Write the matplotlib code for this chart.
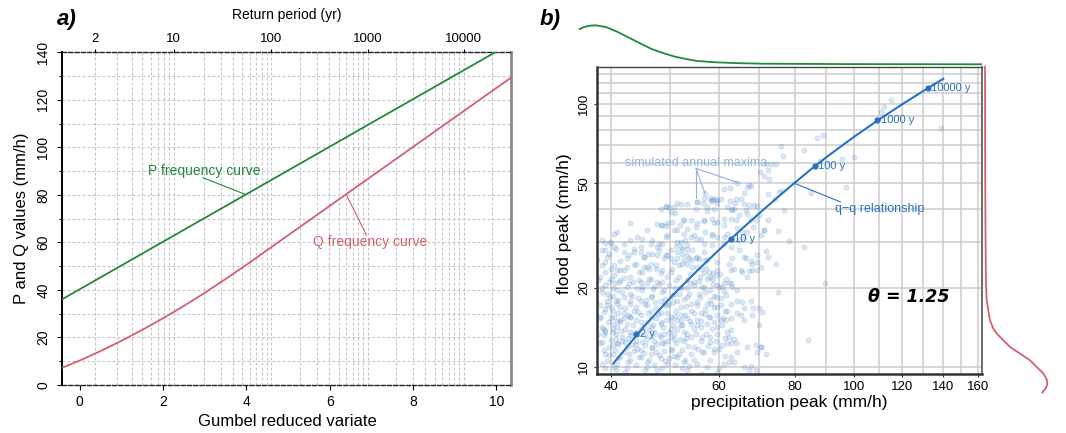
import numpy as np
import matplotlib.pyplot as plt
from matplotlib.ticker import NullFormatter

plt.rcParams['font.family'] = ['Liberation Sans', 'DejaVu Sans']

W, H = 1066, 433

# ---- panel a: frequency curves vs Gumbel reduced variate ----
gumbel_y = [-0.42, 0.0, 0.5, 1.0, 1.5, 2.0, 2.5, 3.0, 3.5, 4.0, 4.5, 5.0, 6.0, 7.0, 8.0, 9.0, 10.0, 10.35]
p_curve = [36.1, 40.3, 45.3, 50.3, 55.3, 60.3, 65.3, 70.3, 75.3, 80.3, 85.3, 90.3, 100.3, 110.3, 120.3,
           130.3, 140.3, 143.8]
q_curve = [7.3, 10.3, 14.3, 18.6, 23.2, 28.1, 33.3, 38.8, 44.6, 50.6, 56.8, 63.0, 75.4, 87.8, 100.2,
           112.6, 125.0, 129.3]
return_periods = [2, 10, 100, 1000, 10000]

# ---- panel b: q-q relationship and simulated maxima ----
rp_labels = ['2 y', '10 y', '100 y', '1000 y', '10000 y']
rp_precip = [44.0, 62.8, 86.3, 109.3, 132.4]
rp_flood = [13.3, 30.7, 58.0, 86.8, 115.5]

# marginal densities (relative height)
p_dens_x = [35.5, 36.2, 36.9, 37.7, 39.2, 40.9, 42.7, 44.6, 46.6, 48.8, 50.9, 53.3, 55.4, 59.4, 65.0,
            71.1, 98.8, 162.0]
p_dens = [0.906, 0.962, 0.99, 1.0, 0.957, 0.837, 0.689, 0.541, 0.395, 0.286, 0.199, 0.133, 0.089,
          0.056, 0.033, 0.02, 0.01, 0.005]
q_dens_y = [139, 60, 35, 25, 20.8, 17.96, 16.4, 15.06, 14.0, 13.4, 12.64, 11.92, 11.24, 10.6, 10.0,
            9.44, 8.98, 8.64, 8.32, 7.99]
q_dens = [0.0, 0.003, 0.007, 0.012, 0.016, 0.027, 0.053, 0.08, 0.133, 0.188, 0.294, 0.401, 0.562,
          0.722, 0.83, 0.936, 0.99, 1.0, 0.979, 0.92]

# simulated annual maxima (precipitation peak, flood peak)
sim_pairs = [
    (115.2, 103.5), (112.3, 97.9), (110.7, 93.7), (139.0, 81.0), (86.9, 74.6), (89.0, 76.3), (76.0, 69.6),
    (83.0, 66.8), (88.2, 60.8), (95.8, 62.0), (100.0, 63.0), (76.6, 63.5), (71.8, 59.1), (70.3, 55.3),
    (71.3, 53.4), (72.4, 56.0), (72.7, 51.8), (74.6, 59.1), (73.1, 59.1), (64.4, 50.2), (67.2, 49.1),
    (66.9, 48.5), (61.2, 47.7), (58.8, 43.6), (64.2, 43.6), (66.1, 45.8), (72.2, 45.4), (75.5, 46.3),
    (76.3, 46.8), (74.3, 43.4), (85.1, 46.0), (97.2, 48.5), (56.8, 44.0), (57.0, 45.8), (58.4, 42.7),
    (59.4, 43.4), (51.2, 42.0), (49.1, 40.7), (55.4, 42.3), (76.7, 39.7),
    (55.4, 42.5), (58.6, 43.2), (59.7, 42.2), (62.6, 42.9), (63.8, 42.2), (66.1, 41.9), (67.3, 41.4),
    (69.3, 40.9), (49.1, 40.9), (50.7, 40.5), (53.3, 41.6), (57.5, 40.7), (62.0, 40.5), (63.2, 40.1),
    (64.8, 37.8), (66.9, 38.1), (69.1, 36.4), (62.8, 36.7), (50.1, 38.9), (48.2, 39.8), (47.6, 34.9),
    (48.5, 34.6), (49.4, 35.4), (50.7, 33.2), (51.9, 34.6), (53.3, 33.6), (55.4, 35.2), (56.8, 36.0),
    (58.6, 36.7), (59.7, 35.6), (61.2, 34.6), (57.1, 32.7), (52.6, 32.2), (49.4, 31.8), (55.4, 30.8),
    (51.3, 29.9), (53.3, 29.1), (48.5, 29.5), (50.1, 27.8), (52.3, 27.0), (54.3, 27.8), (56.8, 27.4),
    (58.6, 29.1), (61.2, 29.5), (62.8, 28.6), (64.8, 30.4), (66.1, 31.3), (66.9, 32.7), (64.4, 33.7),
    (62.0, 32.2), (59.7, 31.3), (71.3, 33.3), (75.0, 32.9), (78.4, 30.2), (83.0, 28.6), (71.8, 27.7),
    (69.5, 25.1), (68.1, 24.7), (66.1, 26.2), (64.8, 27.8), (63.2, 25.9), (62.4, 24.7), (63.6, 23.7),
    (65.2, 23.3), (67.3, 23.2), (69.5, 23.3), (62.8, 20.8), (60.9, 20.2), (59.4, 22.3), (58.2, 22.0),
    (56.8, 22.8), (55.4, 24.0), (54.0, 25.5), (52.3, 24.7), (50.7, 25.1), (48.8, 25.9), (47.6, 26.6),
    (46.0, 27.0), (45.2, 26.2), (43.6, 27.4), (42.5, 25.9), (41.4, 25.3), (40.9, 23.3), (39.4, 26.2),
    (38.6, 24.4), (37.9, 25.6), (39.8, 29.9), (39.0, 27.8), (40.0, 23.7), (39.6, 21.1), (40.2, 19.9),
    (41.4, 21.4), (43.0, 22.0), (44.4, 23.0), (45.2, 24.0), (46.4, 24.7), (47.3, 23.7), (48.2, 22.7),
    (50.1, 23.0), (51.6, 22.0), (53.3, 21.4), (54.7, 20.5), (56.8, 20.2), (58.2, 19.6), (59.7, 20.5),
    (61.2, 20.8), (52.0, 20.2), (50.7, 19.0), (48.8, 19.6), (47.0, 20.2), (45.8, 20.8), (44.1, 19.9),
    (43.0, 19.0), (41.9, 18.5), (40.7, 17.9), (39.4, 17.9), (38.4, 17.2), (38.9, 16.2), (40.2, 16.4),
    (41.4, 16.9), (43.0, 17.4), (44.7, 17.9), (46.4, 18.5), (48.2, 17.9), (49.7, 17.4), (51.3, 17.9),
    (53.3, 18.5), (55.4, 17.7), (57.5, 17.4), (59.7, 16.9), (62.0, 16.4), (64.4, 17.8), (66.1, 16.7),
    (68.4, 16.8), (68.2, 15.7), (64.4, 16.0), (62.8, 15.3), (60.5, 15.1), (58.2, 15.5), (56.1, 16.0),
    (54.0, 16.4), (52.0, 15.7), (50.1, 15.5), (48.2, 16.0), (46.4, 16.4), (44.7, 15.7), (43.0, 15.5),
    (41.4, 15.1), (40.2, 14.6), (38.6, 14.2), (38.1, 13.4), (38.9, 13.2), (40.2, 13.6), (41.7, 13.0),
    (43.0, 13.6), (44.7, 14.0), (46.4, 14.2), (48.2, 14.6), (50.1, 14.0), (52.0, 14.4), (54.0, 14.6),
    (56.1, 14.2), (58.6, 14.0), (60.9, 14.4), (62.0, 13.6), (62.4, 13.0), (62.8, 12.3), (60.9, 12.1),
    (59.0, 11.7), (56.8, 11.4), (54.7, 11.9), (52.6, 12.5), (50.7, 12.8), (48.8, 12.3), (47.0, 12.6),
    (45.5, 12.1), (44.1, 11.7), (42.5, 11.9), (40.9, 12.3), (39.6, 11.9), (40.2, 11.2), (41.4, 10.9),
    (43.0, 10.6), (44.7, 10.9), (46.4, 11.2), (48.2, 10.8), (49.4, 10.3), (51.3, 10.9), (52.9, 10.6),
    (55.4, 10.3), (57.5, 10.0), (59.7, 9.6), (61.2, 10.3), (63.6, 10.4), (66.1, 10.0), (67.3, 9.7),
    (69.5, 11.4), (70.4, 11.9), (69.1, 12.1), (84.2, 12.7), (75.0, 19.3), (89.6, 20.8), (74.5, 24.7),
    (72.2, 26.2),
    (38.6, 30.4), (40.4, 32.2), (41.9, 29.5), (44.1, 31.3), (45.8, 33.2), (43.0, 35.2), (40.9, 32.6),
    (43.0, 30.4), (44.7, 28.6), (46.7, 30.4), (47.6, 28.6), (49.4, 26.6), (51.3, 25.9), (53.3, 26.6),
    (55.4, 26.2), (57.5, 25.5), (59.7, 25.1), (56.8, 29.5), (58.6, 31.7), (54.0, 31.3), (45.8, 24.0),
    (43.6, 24.4), (41.9, 23.3), (40.4, 22.3), (39.1, 23.0), (38.1, 21.4), (38.6, 19.9), (39.4, 19.0),
    (40.9, 19.6), (42.5, 20.2), (44.7, 21.1), (46.4, 21.7), (48.5, 21.1), (49.7, 20.5), (53.3, 19.9),
    (55.7, 19.0), (57.5, 21.7), (59.4, 18.5), (61.6, 18.8), (54.0, 17.4), (52.0, 16.9), (48.8, 17.2),
    (45.8, 17.2), (43.6, 16.4), (41.9, 16.0), (40.4, 15.5), (38.4, 15.3), (39.1, 13.6), (40.9, 14.2),
    (42.5, 14.6), (43.9, 15.1), (45.8, 14.8), (47.3, 15.3), (49.1, 15.1), (51.3, 15.1), (53.3, 15.3),
    (55.4, 15.1), (57.5, 14.6), (59.7, 14.2), (52.6, 13.6), (50.7, 13.4), (48.8, 13.4), (47.0, 13.6),
    (45.5, 13.2), (43.9, 12.6), (42.2, 12.4), (40.7, 12.8), (38.4, 12.3), (39.1, 11.2), (44.7, 11.6),
    (46.7, 11.8), (50.1, 11.6), (54.0, 13.0), (56.1, 12.6), (58.2, 13.0), (38.6, 10.3), (40.4, 10.0),
    (42.5, 9.9), (45.8, 10.0), (47.6, 9.7), (52.3, 9.9), (62.8, 10.9), (64.4, 11.4), (66.9, 11.9),
    (66.1, 15.1), (67.8, 17.9), (64.4, 19.6), (66.9, 22.0),
    (52.0, 28.6), (53.3, 28.2), (52.6, 25.5), (53.7, 25.9), (55.0, 25.9), (55.7, 25.7), (57.1, 25.5),
    (53.3, 24.7), (54.3, 24.0), (56.1, 23.7), (57.8, 23.0), (58.8, 22.7), (59.7, 23.3), (58.6, 21.7),
    (60.1, 20.2), (54.7, 21.1), (56.4, 20.2), (57.1, 19.3), (59.0, 18.7), (52.6, 18.2), (55.4, 17.2),
    (59.0, 16.9), (60.5, 17.2), (52.9, 15.7), (54.7, 16.0), (56.1, 14.9), (57.8, 15.5), (59.7, 15.7),
    (52.0, 15.1), (52.3, 14.4), (53.3, 13.4), (54.7, 14.0), (56.4, 13.0), (58.2, 12.4), (59.4, 12.6),
    (52.3, 11.6), (54.0, 11.2), (56.4, 11.4), (59.0, 11.4), (52.6, 10.4), (53.7, 10.1), (53.3, 9.7),
    (56.4, 9.4), (60.1, 9.9), (62.8, 23.3), (65.6, 23.0), (68.2, 23.3), (70.4, 24.0), (66.5, 25.9),
    (67.8, 25.3), (69.5, 26.6), (62.4, 20.8), (63.2, 20.2), (65.6, 17.7), (65.2, 15.7), (62.8, 17.4),
    (61.6, 15.1), (62.8, 13.8), (63.6, 12.8), (64.0, 12.3), (62.0, 12.3), (70.0, 16.7), (70.8, 16.2),
    (70.0, 14.4), (70.4, 11.9), (71.8, 11.2), (62.4, 10.4), (67.8, 10.1), (69.1, 9.7),
    (38.6, 27.8), (39.6, 27.0), (40.7, 28.2), (41.9, 27.4), (42.7, 26.6), (43.6, 28.2), (44.7, 27.4),
    (45.3, 26.2), (46.7, 27.0), (47.9, 27.8), (49.1, 26.6), (50.1, 25.9), (51.3, 27.4), (52.3, 28.2),
    (39.1, 25.1), (40.4, 24.4), (41.4, 23.3), (42.5, 24.0), (43.9, 24.7), (45.0, 23.0), (46.1, 23.7),
    (47.3, 24.4), (48.5, 23.3), (50.4, 23.7), (51.6, 24.4), (38.4, 22.0), (39.9, 21.7), (41.2, 21.1),
    (42.8, 20.8), (44.4, 21.4), (46.1, 21.7), (47.6, 21.1), (49.4, 22.0), (51.0, 21.4), (38.6, 19.3),
    (40.2, 18.7), (41.6, 19.3), (43.3, 18.7), (45.0, 19.6), (46.7, 18.7), (48.5, 19.3), (50.4, 18.7),
    (52.0, 19.9), (39.4, 17.2), (40.9, 17.4), (42.2, 16.7), (43.9, 16.9), (45.5, 17.4), (47.3, 16.7),
    (49.1, 17.2), (51.0, 16.4), (38.4, 15.5), (39.9, 15.3), (41.4, 14.8), (43.0, 15.5), (44.7, 14.8),
    (46.4, 15.3), (48.2, 14.8), (50.1, 15.1), (39.1, 13.8), (40.7, 13.4), (42.2, 14.0), (43.9, 13.6),
    (46.1, 13.8), (47.9, 13.2), (49.7, 13.6), (51.3, 14.0), (38.6, 12.4), (40.2, 12.1), (41.7, 12.6),
    (43.3, 12.1), (45.0, 12.4), (46.7, 11.9), (48.5, 12.3), (50.4, 11.7), (39.6, 11.1), (41.1, 10.8),
    (42.8, 11.2), (44.4, 10.9), (46.1, 10.6), (47.9, 11.1), (49.7, 10.8), (51.6, 11.2), (39.1, 9.9),
    (40.7, 9.7), (42.2, 9.6), (45.5, 9.7), (48.5, 9.9),
    (49.7, 40.5), (50.9, 38.4), (52.0, 41.9), (52.4, 36.4), (50.4, 35.7), (48.2, 34.6), (49.1, 34.3),
    (51.3, 33.2), (49.1, 31.3), (44.9, 30.8), (46.4, 29.5), (47.9, 29.3), (39.0, 29.7), (40.0, 29.7),
    (40.4, 28.6), (51.0, 28.8), (52.1, 29.9),
    (62.6, 47.8), (67.9, 48.8), (56.6, 42.2), (58.1, 43.8), (59.7, 43.2), (60.6, 43.6), (65.2, 43.6),
    (55.1, 39.8), (57.5, 39.3), (59.0, 40.1), (62.8, 39.5), (63.6, 40.1), (66.5, 39.5), (68.6, 41.4),
    (52.6, 36.4), (54.0, 36.2), (55.1, 34.2), (56.8, 36.2), (59.0, 35.4), (61.2, 36.7), (64.0, 36.2),
    (67.8, 36.7), (70.0, 37.8), (71.3, 33.2), (72.2, 36.2), (54.7, 31.7), (58.6, 32.2), (61.2, 31.3),
    (52.9, 30.4), (56.1, 30.8), (65.6, 32.7), (68.4, 34.2), (70.4, 31.7),
    (39.0, 20.5), (40.6, 20.9), (42.0, 21.9), (43.5, 21.0), (44.9, 20.2), (46.8, 19.8), (47.9, 20.6),
    (50.8, 20.0), (51.6, 18.9), (39.8, 18.4), (41.0, 18.0), (42.9, 17.9), (44.2, 18.3), (45.6, 18.0),
    (47.2, 17.7), (49.0, 18.2), (50.6, 17.6), (39.0, 16.6), (40.0, 16.9), (41.1, 16.1), (42.6, 15.8),
    (44.3, 16.2), (45.9, 16.0), (47.7, 15.9), (49.4, 16.1), (50.9, 15.6), (39.5, 14.8), (40.8, 15.0),
    (42.0, 15.4), (43.4, 14.4), (45.3, 14.3), (46.9, 14.5), (48.7, 14.2), (50.5, 14.5), (38.8, 14.0),
    (40.3, 14.0), (41.5, 13.7), (43.1, 13.2), (44.6, 13.4), (46.6, 13.1), (48.3, 13.0), (50.2, 13.0),
    (51.8, 12.8), (39.9, 12.7), (41.1, 12.2), (42.6, 12.9), (44.0, 12.2), (45.8, 12.8), (47.5, 12.2),
    (49.3, 12.6), (51.0, 12.3), (38.9, 11.6), (40.5, 11.6), (42.0, 11.4), (43.6, 11.5), (45.3, 11.3),
    (47.3, 11.4), (48.9, 11.5), (50.7, 11.0), (39.3, 10.5), (40.9, 10.3), (42.6, 10.4), (44.0, 10.2),
    (45.8, 10.4), (47.0, 10.2), (49.0, 10.5), (50.9, 10.2),
    (53.8, 22.5), (55.9, 22.0), (57.2, 23.8), (60.4, 22.6), (61.8, 21.6), (53.9, 20.8), (55.8, 21.3),
    (58.7, 20.6), (61.3, 19.5), (53.6, 18.9), (56.0, 18.4), (58.0, 18.0), (60.6, 18.3), (53.0, 17.0),
    (56.9, 16.6), (58.4, 17.3), (61.4, 16.3), (53.8, 14.9), (55.3, 14.5), (57.0, 15.9), (59.0, 14.8),
    (61.0, 15.4), (53.1, 12.9), (55.2, 13.4), (57.2, 13.3), (59.7, 13.3), (61.4, 12.9), (53.5, 12.0),
    (55.5, 11.7), (57.6, 12.0), (60.1, 11.7), (54.7, 10.6), (58.0, 10.6), (61.5, 11.0),
]
sim_precip = [p[0] for p in sim_pairs]
sim_flood = [p[1] for p in sim_pairs]

GREEN = '#1f8a3b'
RED = '#d4606f'
BLUE = '#2a72c0'
LIGHTBLUE = '#8fb5de'


def rect(left, top, right, bottom):
    return [left / W, 1 - bottom / H, (right - left) / W, (bottom - top) / H]


def ftext(x, y, s, **kw):
    fig.text(x / W, 1 - y / H, s, **kw)


def gumbel_of_T(T):
    T = np.asarray(T, dtype=float)
    return -np.log(-np.log(1 - 1 / T))


fig = plt.figure(figsize=(W / 100, H / 100), dpi=100)

# ================= panel a =================
ax = fig.add_axes(rect(62.3, 52.3, 511, 385))
ax.set_xlim(-0.42, 10.35)
ax.set_ylim(0, 140)

# grid: horizontal every 10, vertical at return periods
for v in range(10, 140, 10):
    ax.axhline(v, color='#c4c4c4', lw=0.8, ls=(0, (2.5, 2)), zorder=0)
grid_T = [k * 10 ** e for e in range(0, 5) for k in range(1, 10) if k * 10 ** e >= 2]
for T in grid_T:
    g = gumbel_of_T(T)
    if g < 10.3:
        ax.axvline(g, color='#c4c4c4', lw=0.8, ls=(0, (2.5, 2)), zorder=0)

ax.plot(gumbel_y, p_curve, color=GREEN, lw=1.3, zorder=3)
ax.plot(gumbel_y, q_curve, color=RED, lw=1.3, zorder=3)

# annotations
ax.text(2.98, 90.2, 'P frequency curve', color=GREEN, fontsize=10, ha='center', va='center')
ax.plot([2.96, 3.96], [87.2, 80.3], color=GREEN, lw=0.8)
ax.text(6.97, 60.3, 'Q frequency curve', color=RED, fontsize=10, ha='center', va='center')
ax.plot([6.88, 6.40], [63.1, 80.0], color=RED, lw=0.8)

ax.set_xticks([0, 2, 4, 6, 8, 10])
ax.set_yticks(range(0, 141, 20))
ax.set_yticks(range(0, 141, 10), minor=True)
ax.tick_params(axis='both', labelsize=10, length=3.5, width=0.8, pad=4)
ax.tick_params(axis='y', which='minor', length=2.5, width=0.8)
ax.tick_params(axis='y', pad=5)
plt.setp(ax.get_yticklabels(), rotation=90, va='center')

for side in ['top', 'bottom']:
    ax.spines[side].set_linestyle((0, (3, 1.5)))
    ax.spines[side].set_color('#222222')
    ax.spines[side].set_linewidth(1.0)
ax.spines['left'].set_color('black')
ax.spines['left'].set_linewidth(1.4)
ax.spines['right'].set_color('#8a8a8a')
ax.spines['right'].set_linewidth(2.0)

ax_top = ax.twiny()
ax_top.set_xlim(ax.get_xlim())
ax_top.set_xticks(gumbel_of_T(return_periods), [str(t) for t in return_periods])
ax_top.tick_params(axis='x', labelsize=9.5, length=2.5, width=0.8, pad=2.5)
for s in ax_top.spines.values():
    s.set_visible(False)

ftext(287, 15, 'Return period (yr)', fontsize=10, ha='center', va='center')
ftext(287, 422, 'Gumbel reduced variate', fontsize=12, ha='center', va='center')
ftext(22, 218, 'P and Q values (mm/h)', fontsize=12, ha='center', va='center', rotation=90)
ftext(57, 19, 'a)', fontsize=16, fontweight='bold', fontstyle='italic', ha='left', va='center')

# ================= panel b =================
axb = fig.add_axes(rect(597, 66.7, 982, 374))
axb.set_xscale('log')
axb.set_yscale('log')
axb.set_xlim(37.9, 162.4)
axb.set_ylim(9.4, 139)

axb.set_xticks([40, 60, 80, 100, 120, 140, 160], ['40', '60', '80', '100', '120', '140', '160'])
axb.set_xticks(range(40, 161, 10), minor=True)
axb.set_yticks([10, 20, 50, 100], ['10', '20', '50', '100'])
axb.set_yticks([30, 40, 60, 70, 80, 90, 110, 120, 130], minor=True)
axb.xaxis.set_minor_formatter(NullFormatter())
axb.yaxis.set_minor_formatter(NullFormatter())
axb.grid(which='both', color='#cdcdcd', lw=1.1)
axb.set_axisbelow(True)
axb.tick_params(which='minor', length=0)
axb.tick_params(which='major', labelsize=9.5, length=2.5, width=0.8, pad=2.5, color='#333333')
plt.setp(axb.get_yticklabels(), rotation=90, va='center')

for side in ['left', 'bottom']:
    axb.spines[side].set_color('#333333')
    axb.spines[side].set_linewidth(1.8)
axb.spines['top'].set_color('#444444')
axb.spines['top'].set_linewidth(1.0)
axb.spines['right'].set_color('#555555')
axb.spines['right'].set_linewidth(1.2)

axb.scatter(sim_precip, sim_flood, s=14, color='#3d7fc6', alpha=0.19,
            edgecolors='#3d7fc6', linewidths=0.5, zorder=2)

p_arr = np.array(p_curve)
q_arr = np.array(q_curve)
mask = (p_arr >= 40) & (p_arr <= 140.5)
axb.plot(p_arr[mask], q_arr[mask], color=BLUE, lw=1.5, zorder=3)
axb.plot(rp_precip, rp_flood, 'o', color=BLUE, ms=3.5, zorder=4)
for lab, xp, yq in zip(rp_labels, rp_precip, rp_flood):
    axb.annotate(lab, (xp, yq), xytext=(2.5, 0), textcoords='offset points',
                 color=BLUE, fontsize=8, ha='left', va='center', zorder=5)

axb.text(42.1, 59.5, 'simulated annual maxima', color=LIGHTBLUE, fontsize=9, ha='left', va='center')
for xe, ye in [(55.1, 44.0), (57.0, 45.8), (64.4, 50.4)]:
    axb.plot([55.1, xe], [57.0, ye], color=LIGHTBLUE, lw=0.8)
axb.text(93.1, 40.1, 'q\u2212q relationship', color=BLUE, fontsize=9, ha='left', va='center')
axb.plot([79.6, 95.1], [50.2, 42.5], color=BLUE, lw=0.8)

axb.text(105.5, 18.4, '\u03b8 = 1.25', fontsize=12.5, fontweight='bold', fontstyle='italic',
         family='DejaVu Sans', ha='left', va='center')

# marginal density of P (top)
axt = fig.add_axes(rect(597, 25.3, 982, 64.5))
axt.set_xscale('log')
axt.set_xlim(37.9, 162.4)
axt.set_ylim(0, 1)
axt.plot(p_dens_x, p_dens, color=GREEN, lw=1.3, clip_on=False)
axt.axis('off')

# marginal density of Q (right)
axr = fig.add_axes(rect(985, 66.7, 1047.3, 374))
axr.set_yscale('log')
axr.set_ylim(9.4, 139)
axr.set_xlim(0, 1)
axr.plot(q_dens, q_dens_y, color=RED, lw=1.3, clip_on=False)
axr.axis('off')

ftext(564, 224, 'flood peak (mm/h)', fontsize=12.5, ha='center', va='center', rotation=90)
ftext(789, 402, 'precipitation peak (mm/h)', fontsize=12.5, ha='center', va='center')
ftext(540, 19, 'b)', fontsize=16, fontweight='bold', fontstyle='italic', ha='left', va='center')

fig.savefig('out.png', dpi=100)
